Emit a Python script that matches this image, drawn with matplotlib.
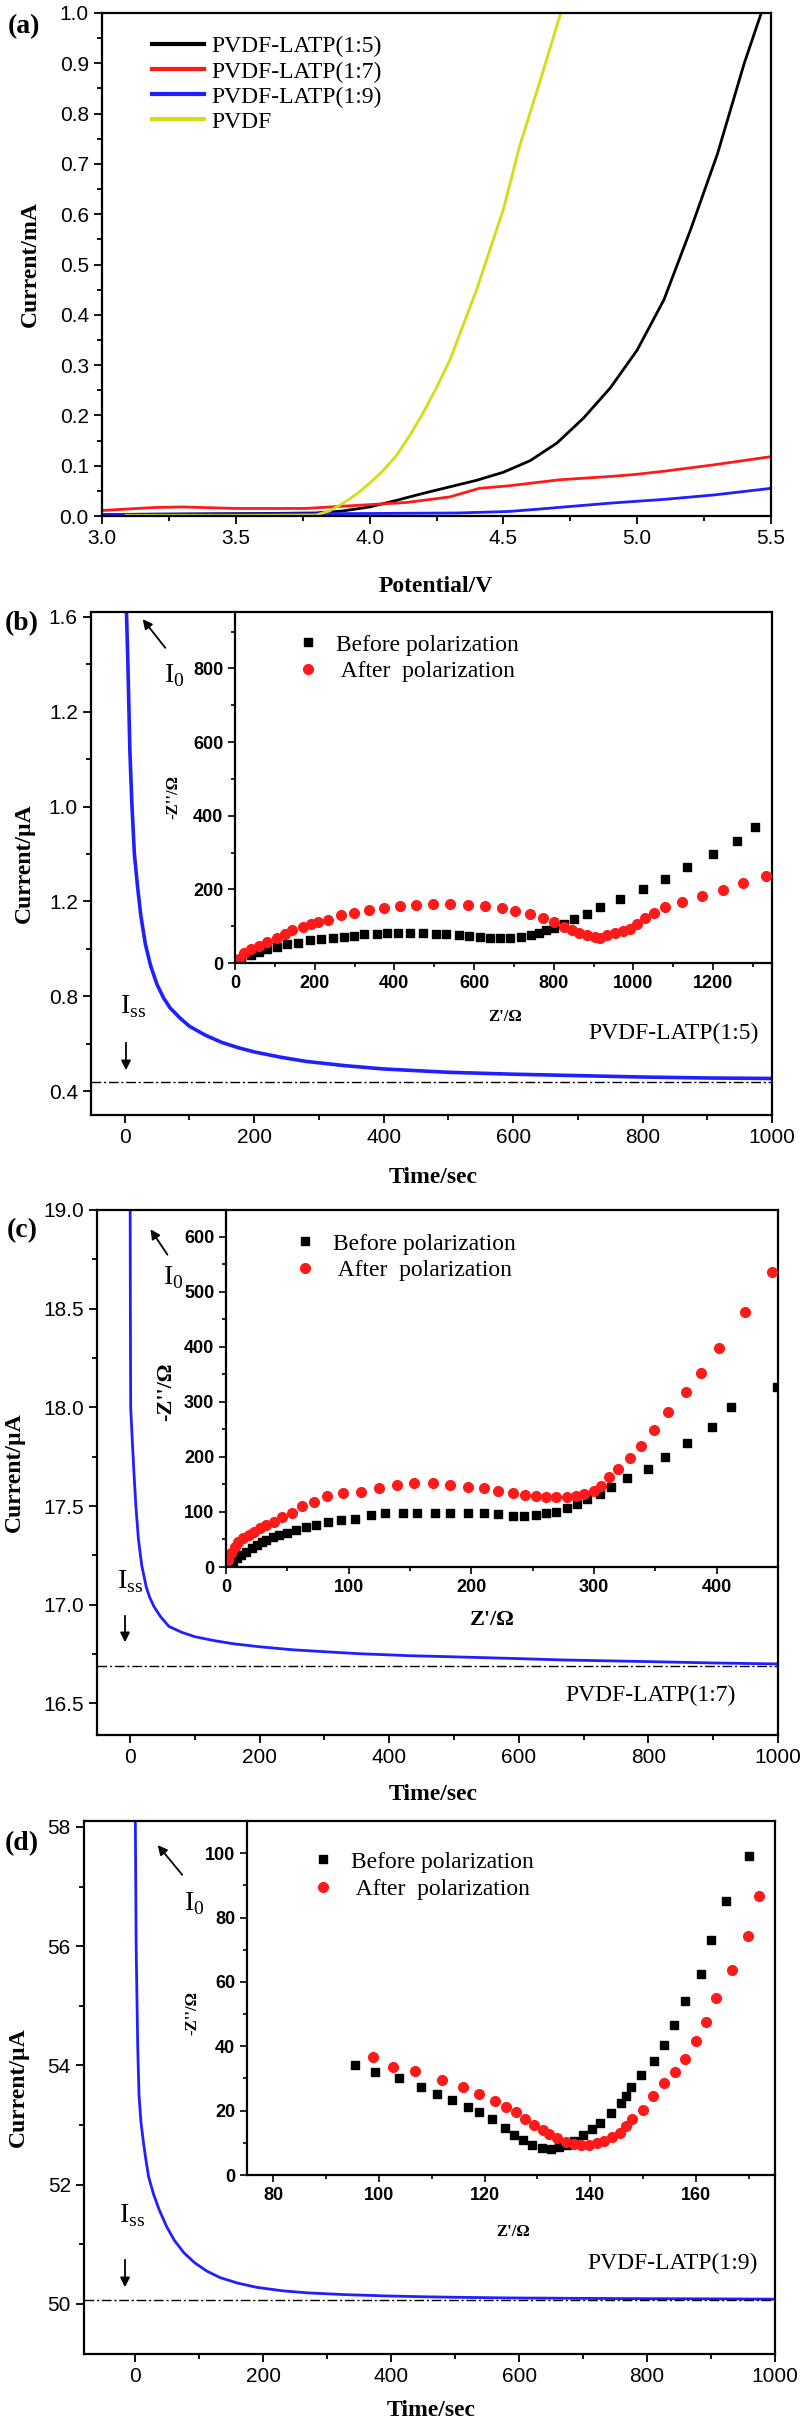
import matplotlib
matplotlib.use('Agg')
import matplotlib.pyplot as plt
from matplotlib.ticker import MultipleLocator, FixedLocator

plt.rcParams['font.family'] = 'Liberation Serif'
plt.rcParams['mathtext.fontset'] = 'custom'
plt.rcParams['mathtext.rm'] = 'Liberation Serif'
plt.rcParams['axes.linewidth'] = 1.6

# ---------------- data ----------------
# (a) linear sweep voltammetry
a_v15 = [3.0, 3.3, 3.6, 3.8, 3.9, 4.0, 4.1, 4.2, 4.3, 4.4, 4.5, 4.6, 4.7, 4.8, 4.9, 5.0,
         5.1, 5.2, 5.3, 5.4, 5.47]
a_i15 = [0.003, 0.004, 0.005, 0.006, 0.010, 0.018, 0.031, 0.045, 0.058, 0.071, 0.087, 0.110,
         0.145, 0.195, 0.255, 0.330, 0.430, 0.570, 0.720, 0.900, 1.01]
a_v17 = [3.0, 3.1, 3.2, 3.3, 3.5, 3.76, 3.95, 4.14, 4.30, 4.41, 4.52, 4.71, 4.91, 5.0, 5.10,
         5.29, 5.5]
a_i17 = [0.011, 0.014, 0.017, 0.018, 0.015, 0.015, 0.021, 0.027, 0.038, 0.055, 0.060, 0.072,
         0.079, 0.083, 0.089, 0.102, 0.118]
a_v19 = [3.0, 3.5, 4.0, 4.33, 4.52, 4.64, 4.75, 4.91, 5.10, 5.29, 5.5]
a_i19 = [0.003, 0.004, 0.005, 0.006, 0.009, 0.014, 0.019, 0.026, 0.033, 0.042, 0.055]
a_vp = [3.09, 3.5, 3.8, 3.85, 3.9, 3.95, 4.0, 4.05, 4.1, 4.15, 4.2, 4.25, 4.3, 4.35, 4.4,
        4.45, 4.5, 4.56, 4.64, 4.72]
a_ip = [0.001, 0.001, 0.002, 0.010, 0.025, 0.043, 0.065, 0.090, 0.120, 0.160, 0.205, 0.255,
        0.310, 0.380, 0.450, 0.530, 0.610, 0.734, 0.870, 1.01]
a_names = ['PVDF-LATP(1:5)', 'PVDF-LATP(1:7)', 'PVDF-LATP(1:9)', 'PVDF']

# (b) chronoamperometry 1:5 (y in axis units, labels below are the printed ones)
b_time = [2, 3, 5, 8, 11, 15, 20, 25, 32, 40, 50, 60, 70, 85, 100, 125, 150, 175, 200, 240,
          280, 340, 400, 500, 600, 700, 800, 900, 1000]
b_cur = [1.6, 1.40, 1.30, 1.12, 1.01, 0.90, 0.83, 0.77, 0.71, 0.665, 0.625, 0.597, 0.576,
         0.555, 0.537, 0.518, 0.503, 0.492, 0.483, 0.472, 0.463, 0.454, 0.447, 0.440, 0.436,
         0.433, 0.430, 0.428, 0.427]
b_iss = 0.419
b_ytick_pos = [0.4, 0.6, 0.8, 1.0, 1.2, 1.4]
b_ytick_lab = ['0.4', '0.8', '1.2', '1.0', '1.2', '1.6']
b_z_before = [15, 41, 60, 80, 105, 131, 157, 189, 215, 246, 273, 299, 325, 356, 382, 408, 440,
              472, 504, 530, 562, 588, 614, 639, 665, 691, 717, 742, 762, 781, 800, 826, 851,
              884, 916, 967, 1025, 1079, 1134, 1199, 1259, 1305]
b_zz_before = [8, 21, 30, 38, 44, 51, 55, 62, 64, 68, 71, 73, 78, 80, 81, 82, 82, 81, 80, 78,
               75, 72, 71, 69, 69, 69, 71, 75, 82, 89, 96, 107, 120, 133, 151, 174, 200, 228,
               260, 295, 330, 368]
b_z_after = [9, 22, 41, 60, 80, 105, 125, 144, 170, 190, 208, 234, 266, 298, 337, 375, 414,
             455, 498, 540, 584, 627, 669, 704, 740, 772, 800, 826, 845, 864, 884, 903, 916,
             935, 955, 974, 991, 1009, 1029, 1051, 1079, 1122, 1173, 1225, 1276, 1332]
b_zz_after = [12, 26, 38, 47, 57, 69, 78, 89, 99, 107, 111, 118, 129, 137, 144, 150, 154, 158,
              160, 160, 158, 155, 150, 140, 133, 122, 111, 98, 89, 81, 75, 71, 69, 75, 82, 87,
              91, 107, 122, 136, 151, 166, 183, 199, 216, 236]

# (c) chronoamperometry 1:7
c_time = [0, 0.5, 1, 3.5, 6, 9, 13, 18, 25, 30, 37, 47, 60, 80, 100, 130, 160, 200, 250, 300,
          353, 430, 512, 600, 670, 750, 828, 900, 1000]
c_cur = [19.3, 18.5, 18.0, 17.83, 17.67, 17.5, 17.33, 17.2, 17.09, 17.04, 16.99, 16.94, 16.89,
         16.86, 16.838, 16.818, 16.802, 16.787, 16.772, 16.762, 16.752, 16.742, 16.735, 16.727,
         16.72, 16.715, 16.71, 16.705, 16.70]
c_iss = 16.69
c_z_before = [1.7, 6, 9, 12, 16, 21, 25, 29, 33, 38, 43.6, 50, 57, 65, 73.7, 83, 94, 105, 118,
              130, 144, 156, 170, 183, 197, 210, 222, 234, 243, 253, 261, 269, 278, 286, 294.7,
              304.6, 314, 327, 344, 358, 376, 396.6, 411.4, 449]
c_zz_before = [4, 10, 16, 22, 28, 34, 40, 45, 49, 54, 58, 62, 67, 72, 76, 81, 85, 88, 94.5,
               97.5, 99, 99, 99, 99, 99, 99, 96, 93, 93, 94.5, 97.5, 100.6, 107, 114.5, 123,
               133, 146, 161, 179, 200.6, 226, 254, 290, 328]
c_z_after = [1.7, 4, 7, 10, 14, 18.5, 23, 28, 33, 39, 46, 54, 62, 71.6, 82, 95, 110, 125, 139,
             153, 169, 183, 197, 210, 222, 234, 243.6, 253, 261, 269, 278, 285, 292, 299.6, 306,
             312, 319.6, 329, 338, 348.7, 360, 374.6, 387, 402, 423, 445]
c_zz_after = [13, 25, 37, 46, 52, 58, 64, 70, 76, 82, 90, 99, 110, 119, 129, 135, 137, 143, 149,
              152, 152, 149, 146, 143, 138, 134, 131, 129, 128, 128, 128, 129, 133, 138, 148,
              163, 178, 198, 220, 249, 281, 318, 353, 399, 463, 536]

# (d) chronoamperometry 1:9
d_time = [0, 1.5, 4, 6, 9, 13, 17, 21, 29, 37.5, 49, 61, 76, 93, 112, 133, 160, 189, 230, 270,
          330, 390, 450, 510, 590, 670, 750, 830, 900, 1000]
d_cur = [58.5, 56.0, 54.3, 53.5, 53.05, 52.7, 52.4, 52.13, 51.83, 51.58, 51.3, 51.07, 50.86,
         50.69, 50.55, 50.44, 50.35, 50.28, 50.22, 50.185, 50.155, 50.135, 50.12, 50.11, 50.10,
         50.095, 50.09, 50.087, 50.085, 50.08]
d_iss = 50.06
d_z_before = [95.4, 99.2, 103.8, 107.9, 110.9, 113.9, 116.8, 119.0, 121.4, 123.8, 125.5, 127.2,
              129.0, 130.9, 132.5, 134.0, 135.6, 137.0, 138.6, 140.3, 141.9, 143.9, 145.8,
              146.8, 147.8, 149.7, 152.0, 154.0, 155.9, 158.0, 161.0, 162.9, 165.8, 170.0]
d_zz_before = [34.3, 31.9, 30.2, 27.4, 25.3, 23.2, 21.0, 19.5, 17.5, 14.7, 12.5, 11.0, 9.4, 8.4,
               8.1, 8.7, 9.4, 10.6, 12.5, 14.4, 16.3, 19.4, 22.5, 24.5, 27.5, 31.0, 35.4, 40.4,
               46.7, 54.0, 62.5, 73.0, 85.0, 99.0]
d_z_after = [98.8, 102.7, 106.9, 111.9, 116.0, 119.0, 121.9, 124.1, 126.0, 127.7, 129.4, 131.1,
             132.2, 133.8, 135.4, 136.9, 138.3, 139.8, 141.2, 142.7, 144.2, 145.6, 146.8, 148.0,
             150.0, 151.9, 153.9, 156.0, 158.0, 160.0, 162.0, 163.8, 166.9, 169.8, 172.0]
d_zz_after = [36.8, 33.7, 32.2, 29.5, 27.4, 25.2, 23.1, 21.0, 19.5, 17.5, 15.6, 14.0, 12.8, 11.6,
              10.4, 9.7, 9.2, 9.4, 9.9, 10.7, 11.8, 13.2, 15.1, 17.4, 20.1, 24.5, 28.5, 31.9,
              36.2, 41.5, 47.4, 55.0, 63.8, 74.3, 86.7]

leg_names = ['Before polarization', ' After  polarization']

# ---------------- layout helpers (pixel positions on the 800x2426 canvas) ----------------
W, H = 800, 2426
fig = plt.figure(figsize=(W / 100, H / 100), dpi=100)


def rect(l, t, r, b):
    return [l / W, 1 - b / H, (r - l) / W, (b - t) / H]


def fx(x):
    return x / W


def fy(y):
    return 1 - y / H


def txt(x, y, s, **kw):
    fig.text(fx(x), fy(y), s, **kw)


def arrow(x0, y0, x1, y1):
    fig.add_artist(matplotlib.patches.FancyArrowPatch(
        (fx(x0), fy(y0)), (fx(x1), fy(y1)), transform=fig.transFigure,
        arrowstyle='-|>', mutation_scale=14, lw=1.3, color='k'))


def style_main(ax, fs=15):
    ax.tick_params(which='both', direction='out', width=1.3, labelsize=fs,
                   labelfontfamily='Liberation Sans')
    ax.tick_params(which='major', length=6)
    ax.tick_params(which='minor', length=3.5)


def style_inset(ax):
    ax.set_facecolor('none')
    ax.spines['top'].set_visible(False)
    ax.spines['right'].set_visible(False)
    ax.tick_params(which='both', direction='out', width=1.2, top=False, right=False)
    ax.tick_params(which='major', length=5)
    ax.tick_params(which='minor', length=3)


def bold_ticks(ax, xt, yt, fs=13):
    ax.set_xticks(xt, labels=[str(v) for v in xt], fontweight='bold', fontsize=fs,
                  fontfamily='Liberation Sans')
    ax.set_yticks(yt, labels=[str(v) for v in yt], fontweight='bold', fontsize=fs,
                  fontfamily='Liberation Sans')


blue = '#1f1fff'
red = '#ff1a1a'

# ---------------- (a) ----------------
ax = fig.add_axes(rect(102, 13, 771, 516))
ax.plot(a_v15, a_i15, color='k', lw=2, label=a_names[0])
ax.plot(a_v17, a_i17, color=red, lw=2, label=a_names[1])
ax.plot(a_v19, a_i19, color=blue, lw=2, label=a_names[2])
ax.plot(a_vp, a_ip, color='#d4dc14', lw=2, label=a_names[3])
ax.set_xlim(3.0, 5.5)
ax.set_ylim(0, 1.0)
ax.xaxis.set_major_locator(MultipleLocator(0.5))
ax.xaxis.set_minor_locator(MultipleLocator(0.25))
ax.yaxis.set_major_locator(MultipleLocator(0.1))
ax.yaxis.set_minor_locator(MultipleLocator(0.05))
ax.xaxis.set_major_formatter('{x:.1f}')
ax.yaxis.set_major_formatter('{x:.1f}')
style_main(ax, 15)
ax.legend(loc='upper left', bbox_to_anchor=(fx(152), fy(36)), bbox_transform=fig.transFigure,
          frameon=False, fontsize=17, handlelength=2.2, handletextpad=0.3,
          labelspacing=0.15, borderpad=0, borderaxespad=0)
for l in ax.get_legend().get_lines():
    l.set_linewidth(3)
txt(30, 264, 'Current/mA', rotation=90, ha='center', va='center', fontsize=17, fontweight='bold')
txt(436, 587, 'Potential/V', ha='center', va='center', fontsize=17, fontweight='bold')
txt(24, 27, '(a)', ha='center', va='center', fontsize=20, fontweight='bold')


def chrono(box, inset_box, t, cur, iss, xlim, ylim, lw=2):
    ax = fig.add_axes(rect(*box))
    ax.plot(t, cur, color=blue, lw=lw)
    ax.axhline(iss, color='k', lw=1, ls=(0, (7, 2, 1.5, 2)))
    ax.set_xlim(*xlim)
    ax.set_ylim(*ylim)
    ax.xaxis.set_major_locator(MultipleLocator(200))
    ax.xaxis.set_minor_locator(MultipleLocator(100))
    style_main(ax, 15)
    ins = fig.add_axes(rect(*inset_box))
    style_inset(ins)
    return ax, ins


# ---------------- (b) ----------------
ax, ins = chrono((91, 612, 772, 1115), (235, 612, 772, 963), b_time, b_cur, b_iss,
                 (-52, 1000), (0.35, 1.41), lw=2.6)
ax.yaxis.set_major_locator(FixedLocator(b_ytick_pos))
ax.set_yticks(b_ytick_pos, labels=b_ytick_lab)
ax.yaxis.set_minor_locator(MultipleLocator(0.1))
ins.plot(b_z_before, b_zz_before, 's', color='k', ms=5.5, label=leg_names[0])
ins.plot(b_z_after, b_zz_after, 'o', color=red, ms=7, label=leg_names[1])
ins.set_xlim(0, 1348)
ins.set_ylim(0, 953)
bold_ticks(ins, [0, 200, 400, 600, 800, 1000, 1200], [0, 200, 400, 600, 800])
ins.xaxis.set_minor_locator(MultipleLocator(100))
ins.yaxis.set_minor_locator(MultipleLocator(100))
ins.legend(loc='upper left', bbox_to_anchor=(fx(296), fy(634)), bbox_transform=fig.transFigure,
           frameon=False, fontsize=17, handlelength=1.0, handletextpad=0.7,
           labelspacing=0.2, borderpad=0, borderaxespad=0)
txt(173, 797, "-Z''/\u03a9", rotation=90, ha='center', va='center', fontsize=12, fontweight='bold')
txt(505, 1017, "Z'/\u03a9", ha='center', va='center', fontsize=12, fontweight='bold')
txt(759, 1033, 'PVDF-LATP(1:5)', ha='right', va='center', fontsize=17)
txt(164, 682, r'$\mathrm{I}_{\mathrm{0}}$', ha='left', va='baseline', fontsize=20)
txt(120, 1013, r'$\mathrm{I}_{\mathrm{ss}}$', ha='left', va='baseline', fontsize=20)
arrow(167, 650, 141, 617)
arrow(126, 1040, 126, 1073)
txt(24, 863, 'Current/\u00b5A', rotation=90, ha='center', va='center', fontsize=17, fontweight='bold')
txt(433, 1178, 'Time/sec', ha='center', va='center', fontsize=17, fontweight='bold')
txt(22, 624, '(b)', ha='center', va='center', fontsize=20, fontweight='bold')

# ---------------- (c) ----------------
ax, ins = chrono((97, 1210, 778, 1735), (226, 1210, 778, 1567), c_time, c_cur, c_iss,
                 (-51, 1000), (16.34, 19.0))
ax.yaxis.set_major_locator(MultipleLocator(0.5))
ax.yaxis.set_minor_locator(MultipleLocator(0.25))
ax.yaxis.set_major_formatter('{x:.1f}')
ins.plot(c_z_before, c_zz_before, 's', color='k', ms=5.5, label=leg_names[0])
ins.plot(c_z_after, c_zz_after, 'o', color=red, ms=7, label=leg_names[1])
ins.set_xlim(0, 450)
ins.set_ylim(0, 649)
bold_ticks(ins, [0, 100, 200, 300, 400], [0, 100, 200, 300, 400, 500, 600])
ins.xaxis.set_minor_locator(MultipleLocator(50))
ins.yaxis.set_minor_locator(MultipleLocator(50))
ins.legend(loc='upper left', bbox_to_anchor=(fx(293), fy(1233)), bbox_transform=fig.transFigure,
           frameon=False, fontsize=17, handlelength=1.0, handletextpad=0.7,
           labelspacing=0.2, borderpad=0, borderaxespad=0)
txt(166, 1392, "-Z''/\u03a9", rotation=90, ha='center', va='center', fontsize=16, fontweight='bold')
txt(492, 1620, "Z'/\u03a9", ha='center', va='center', fontsize=16, fontweight='bold')
txt(736, 1695, 'PVDF-LATP(1:7)', ha='right', va='center', fontsize=17)
txt(163, 1284, r'$\mathrm{I}_{\mathrm{0}}$', ha='left', va='baseline', fontsize=20)
txt(117, 1588, r'$\mathrm{I}_{\mathrm{ss}}$', ha='left', va='baseline', fontsize=20)
arrow(169, 1257, 149, 1227)
arrow(125, 1613, 125, 1645)
txt(14, 1472, 'Current/\u00b5A', rotation=90, ha='center', va='center', fontsize=17, fontweight='bold')
txt(433, 1795, 'Time/sec', ha='center', va='center', fontsize=17, fontweight='bold')
txt(22, 1231, '(c)', ha='center', va='center', fontsize=20, fontweight='bold')

# ---------------- (d) ----------------
ax, ins = chrono((84, 1821, 775, 2354), (247, 1821, 775, 2175), d_time, d_cur, d_iss,
                 (-80, 1000), (49.16, 58.1))
ax.yaxis.set_major_locator(MultipleLocator(2))
ax.yaxis.set_minor_locator(MultipleLocator(1))
ins.plot(d_z_before, d_zz_before, 's', color='k', ms=5.5, label=leg_names[0])
ins.plot(d_z_after, d_zz_after, 'o', color=red, ms=7, label=leg_names[1])
ins.set_xlim(75, 175)
ins.set_ylim(0, 110)
bold_ticks(ins, [80, 100, 120, 140, 160], [0, 20, 40, 60, 80, 100])
ins.xaxis.set_minor_locator(MultipleLocator(10))
ins.yaxis.set_minor_locator(MultipleLocator(10))
ins.legend(loc='upper left', bbox_to_anchor=(fx(311), fy(1851)), bbox_transform=fig.transFigure,
           frameon=False, fontsize=17, handlelength=1.0, handletextpad=0.7,
           labelspacing=0.25, borderpad=0, borderaxespad=0)
txt(192, 2013, "-Z''/\u03a9", rotation=90, ha='center', va='center', fontsize=12, fontweight='bold')
txt(513, 2232, "Z'/\u03a9", ha='center', va='center', fontsize=12, fontweight='bold')
txt(758, 2263, 'PVDF-LATP(1:9)', ha='right', va='center', fontsize=17)
txt(184, 1910, r'$\mathrm{I}_{\mathrm{0}}$', ha='left', va='baseline', fontsize=20)
txt(119, 2222, r'$\mathrm{I}_{\mathrm{ss}}$', ha='left', va='baseline', fontsize=20)
arrow(184, 1877, 156, 1843)
arrow(125, 2257, 125, 2290)
txt(18, 2087, 'Current/\u00b5A', rotation=90, ha='center', va='center', fontsize=17, fontweight='bold')
txt(431, 2411, 'Time/sec', ha='center', va='center', fontsize=17, fontweight='bold')
txt(22, 1844, '(d)', ha='center', va='center', fontsize=20, fontweight='bold')

fig.savefig('out.png', dpi=100)
